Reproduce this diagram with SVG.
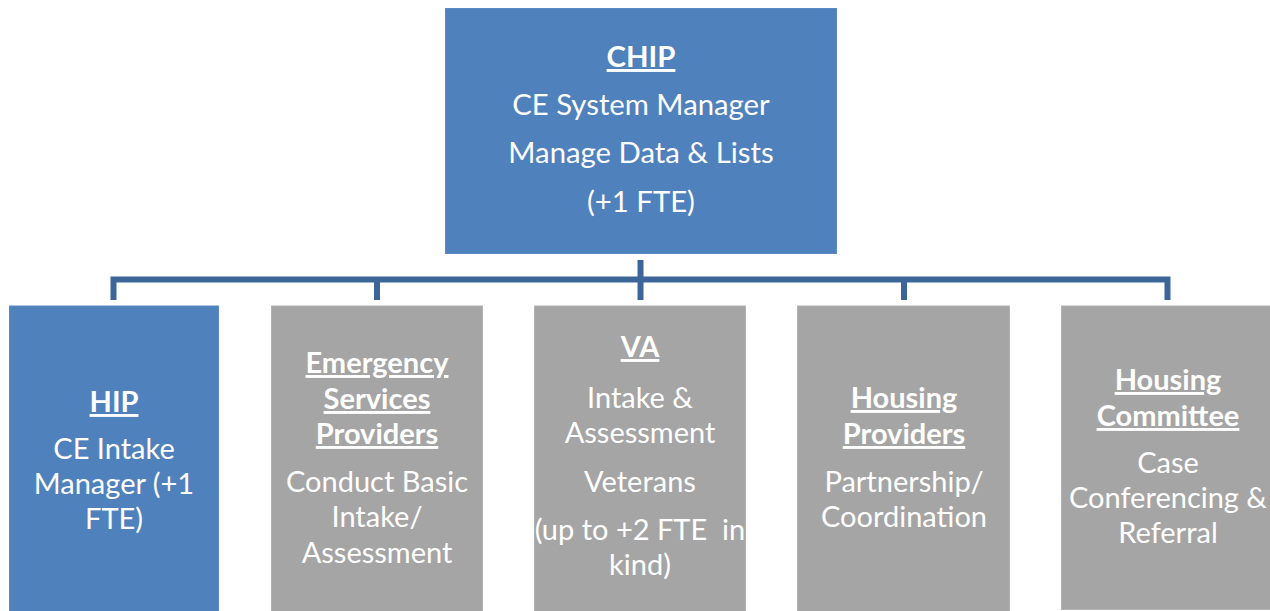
<svg xmlns="http://www.w3.org/2000/svg" width="1270" height="611" viewBox="0 0 1270 611">
  <style>
    .blue { fill: #4F81BD; stroke: #5B8AC4; stroke-width: 1; }
    .gray { fill: #A5A5A5; stroke: #B2B2B2; stroke-width: 1; }
    .lbl { font-family: "Lato", "Open Sans", "Liberation Sans", sans-serif; fill: #FFFFFF; text-anchor: middle; }
    .big { font-size: 29.3px; }
    .sm { font-size: 29px; }
    .head { font-weight: bold; text-decoration: underline; }
    .wire { fill: none; stroke: #3C6699; stroke-width: 6; stroke-linecap: butt; stroke-linejoin: miter; }
  </style>
  <rect width="1270" height="611" fill="#FFFFFF"/>

  <g id="connectors">
    <line class="wire" x1="640.5" y1="260" x2="640.5" y2="300"/>
    <path class="wire" d="M113.5 300 V279.5 H1167.5 V300"/>
    <line class="wire" x1="377" y1="279.5" x2="377" y2="300"/>
    <line class="wire" x1="904" y1="279.5" x2="904" y2="300"/>
  </g>

  <g id="chip">
    <rect class="blue" x="445.5" y="8.5" width="391" height="245"/>
    <text class="lbl big" x="641" y="67"><tspan class="head">CHIP</tspan></text>
    <text class="lbl big" x="641" y="115">CE System Manager</text>
    <text class="lbl big" x="641" y="163">Manage Data &amp; Lists</text>
    <text class="lbl big" x="641" y="212">(+1 FTE)</text>
  </g>

  <g id="hip">
    <rect class="blue" x="9.5" y="306" width="209" height="310"/>
    <text class="lbl sm" x="114" y="412"><tspan class="head">HIP</tspan></text>
    <text class="lbl sm" x="114" y="459">CE Intake</text>
    <text class="lbl sm" x="114" y="494">Manager (+1</text>
    <text class="lbl sm" x="114" y="529">FTE)</text>
  </g>

  <g id="emergency-services">
    <rect class="gray" x="271.5" y="306" width="211" height="310"/>
    <text class="lbl sm" x="377" y="373"><tspan class="head">Emergency</tspan></text>
    <text class="lbl sm" x="377" y="409"><tspan class="head">Services</tspan></text>
    <text class="lbl sm" x="377" y="444"><tspan class="head">Providers</tspan></text>
    <text class="lbl sm" x="377" y="492">Conduct Basic</text>
    <text class="lbl sm" x="377" y="527">Intake/</text>
    <text class="lbl sm" x="377" y="563">Assessment</text>
  </g>

  <g id="va">
    <rect class="gray" x="534.5" y="306" width="211" height="310"/>
    <text class="lbl sm" x="640" y="357"><tspan class="head">VA</tspan></text>
    <text class="lbl sm" x="640" y="408">Intake &amp;</text>
    <text class="lbl sm" x="640" y="443">Assessment</text>
    <text class="lbl sm" x="640" y="492">Veterans</text>
    <text class="lbl sm" x="640" y="540" xml:space="preserve">(up to +2 FTE  in</text>
    <text class="lbl sm" x="640" y="575">kind)</text>
  </g>

  <g id="housing-providers">
    <rect class="gray" x="797.5" y="306" width="212" height="310"/>
    <text class="lbl sm" x="904" y="408"><tspan class="head">Housing</tspan></text>
    <text class="lbl sm" x="904" y="444"><tspan class="head">Providers</tspan></text>
    <text class="lbl sm" x="904" y="492">Partnership/</text>
    <text class="lbl sm" x="904" y="527">Coordination</text>
  </g>

  <g id="housing-committee">
    <rect class="gray" x="1061.5" y="306" width="212" height="303.5"/>
    <text class="lbl sm" x="1168" y="390"><tspan class="head">Housing</tspan></text>
    <text class="lbl sm" x="1168" y="426"><tspan class="head">Committee</tspan></text>
    <text class="lbl sm" x="1168" y="473">Case</text>
    <text class="lbl sm" x="1168" y="508">Conferencing &amp;</text>
    <text class="lbl sm" x="1168" y="543">Referral</text>
  </g>
</svg>
